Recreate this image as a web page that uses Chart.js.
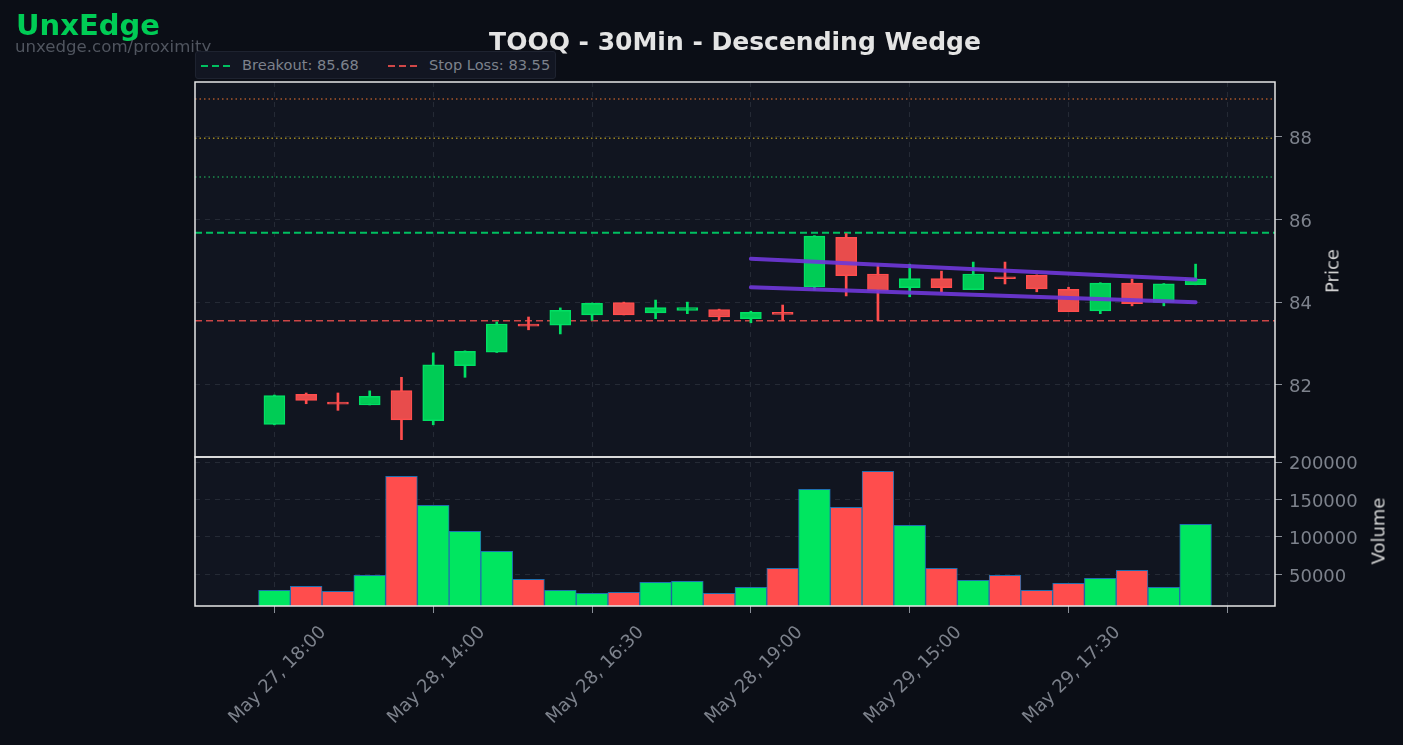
<!DOCTYPE html>
<html>
<head>
<meta charset="utf-8">
<script src="https://cdn.jsdelivr.net/npm/chart.js@4.4.1/dist/chart.umd.min.js"></script>
<style>
  html, body { margin: 0; padding: 0; background: #0b0e16; }
  #wrap { position: relative; width: 1403px; height: 745px; overflow: hidden; font-family: "DejaVu Sans", sans-serif; }
  #chart { position: absolute; left: 0; top: 0; }
  .brand { position: absolute; left: 16px; top: 8px; font-size: 29px; font-weight: bold; color: #00cc55; }
  .site { position: absolute; left: 15px; top: 37px; font-size: 16.6px; color: #50555f; }
  .title { position: absolute; left: 385px; width: 700px; top: 27px; text-align: center; font-size: 25px; font-weight: bold; color: #e4e4e4; }
  .legend { position: absolute; left: 195px; top: 51px; width: 359px; height: 26px; background: #121622; border: 1px solid #1e2330; border-radius: 3px; font-size: 14.6px; color: #7d828c; }
  .legend span { position: absolute; top: 4px; }
  .legend svg { position: absolute; top: 12px; }
  .axt { position: absolute; font-size: 18px; color: #d4d4d4; transform: translate(-50%, -50%) rotate(-90deg); white-space: nowrap; }
</style>
</head>
<body>
<div id="wrap">
  <canvas id="chart" width="1403" height="745"></canvas>
  <div class="brand">UnxEdge</div>
  <div class="site">unxedge.com/proximity</div>
  <div class="title">TOOQ - 30Min - Descending Wedge</div>
  <div class="legend">
    <svg width="32" height="4" style="left:5px"><line x1="0" y1="2" x2="32" y2="2" stroke="#00c060" stroke-width="2" stroke-dasharray="7,4"/></svg>
    <span style="left:46px">Breakout: 85.68</span>
    <svg width="32" height="4" style="left:192px"><line x1="0" y1="2" x2="32" y2="2" stroke="#d04848" stroke-width="2" stroke-dasharray="7,4"/></svg>
    <span style="left:233px">Stop Loss: 83.55</span>
  </div>
  <div class="axt" style="left:1332px; top:271px">Price</div>
  <div class="axt" style="left:1378px; top:531px">Volume</div>
</div>
<script>
// 30 min candles, index 0 = May 27 18:00
const opens  = [81.04, 81.77, 81.58, 81.51, 81.86, 81.13, 82.46, 82.79, 83.47, 83.44, 83.69, 83.99, 83.74, 83.80, 83.82,
                83.60, 83.75, 84.37, 85.57, 84.68, 84.35, 84.57, 84.30, 84.61, 84.65, 84.31, 83.79, 84.46, 83.99, 84.42];
const highs  = [81.75, 81.80, 81.80, 81.85, 82.18, 82.77, 82.82, 83.52, 83.64, 83.86, 83.98, 84.00, 84.05, 84.00, 83.83,
                83.78, 83.93, 85.61, 85.66, 84.90, 84.92, 84.75, 84.97, 84.97, 84.66, 84.36, 84.47, 84.56, 84.45, 84.92];
const lows   = [81.03, 81.54, 81.38, 81.51, 80.67, 81.03, 82.18, 82.78, 83.33, 83.23, 83.56, 83.69, 83.60, 83.72, 83.56,
                83.50, 83.56, 84.29, 84.15, 83.55, 84.13, 84.25, 84.30, 84.44, 84.25, 83.77, 83.72, 83.91, 83.91, 84.42];
const closes = [81.74, 81.62, 81.53, 81.72, 81.15, 82.48, 82.81, 83.47, 83.42, 83.80, 83.97, 83.69, 83.87, 83.87, 83.64,
                83.75, 83.70, 85.60, 84.64, 84.27, 84.57, 84.35, 84.68, 84.57, 84.32, 83.77, 84.46, 83.96, 84.44, 84.56];
const volumes = [28700, 34000, 27300, 48700, 181300, 142500, 107700, 80900, 43400, 28700, 24600, 26000, 39400, 40700, 24600,
                 32700, 58100, 163900, 139800, 188000, 115700, 58100, 42000, 48700, 28700, 38000, 44700, 55400, 32700, 117100];

const tickPositions = [0, 5, 10, 15, 20, 25, 30];
const tickLabels = ['May 27, 18:00', 'May 28, 14:00', 'May 28, 16:30', 'May 28, 19:00', 'May 29, 15:00', 'May 29, 17:30', ''];
const priceTicks = [82, 84, 86, 88];
const volumeTicks = [50000, 100000, 150000, 200000];

const breakout = 85.68;
const stopLoss = 83.55;
const targets = [87.03, 87.97, 88.92];
const wedgeX = [15, 29];
const wedgeUpper = [85.05, 84.55];
const wedgeLower = [84.36, 84.00];

const X_MIN = -2.5, X_MAX = 31.5;
const GREEN = '#00cc55', GREEN_EDGE = '#00e064', RED = '#e84c4c', RED_EDGE = '#ff4d4d';

const up = closes.map((c, i) => c >= opens[i]);
const hline = (y) => [{x: X_MIN, y: y}, {x: X_MAX, y: y}];

const refLine = (y, color, dash, width) => ({
  type: 'line', data: hline(y), yAxisID: 'y', borderColor: color, borderWidth: width,
  borderDash: dash, pointRadius: 0, order: 3
});

const panels = {
  id: 'panels',
  beforeDraw(chart) {
    const {ctx, chartArea: a} = chart;
    ctx.save();
    ctx.fillStyle = '#111520';
    ctx.fillRect(a.left, a.top, a.width, a.height);
    ctx.restore();
  },
  afterDraw(chart) {
    const {ctx, chartArea: a, scales} = chart;
    ctx.save();
    ctx.strokeStyle = '#e6e6e6';
    ctx.lineWidth = 1.5;
    for (const id of ['y', 'yv']) {
      const s = scales[id];
      ctx.strokeRect(a.left, s.top, a.width, s.bottom - s.top);
    }
    ctx.restore();
  }
};

const gridCfg = {color: '#252a35', tickColor: '#8a8f98', tickLength: 7, tickBorderDash: [], lineWidth: 1};
const tickFont = {family: 'DejaVu Sans', size: 18};

new Chart(document.getElementById('chart'), {
  type: 'bar',
  data: {
    datasets: [
      {
        type: 'line', data: wedgeX.map((x, i) => ({x: x, y: wedgeUpper[i]})), yAxisID: 'y',
        borderColor: 'rgba(110,55,215,0.92)', borderWidth: 4, borderCapStyle: 'round', pointRadius: 0, order: 0
      },
      {
        type: 'line', data: wedgeX.map((x, i) => ({x: x, y: wedgeLower[i]})), yAxisID: 'y',
        borderColor: 'rgba(110,55,215,0.92)', borderWidth: 4, borderCapStyle: 'round', pointRadius: 0, order: 0
      },
      {
        data: opens.map((o, i) => ({x: i, y: [o, closes[i]]})), yAxisID: 'y',
        backgroundColor: up.map(u => u ? GREEN : RED),
        borderColor: up.map(u => u ? GREEN_EDGE : RED_EDGE),
        borderWidth: 1.5, borderSkipped: false, barThickness: 21, grouped: false, order: 1
      },
      {
        data: lows.map((l, i) => ({x: i, y: [l, highs[i]]})), yAxisID: 'y',
        backgroundColor: up.map(u => u ? GREEN_EDGE : RED_EDGE),
        borderWidth: 0, barThickness: 2, grouped: false, order: 2
      },
      refLine(breakout, '#00c060', [7, 4], 2),
      refLine(stopLoss, '#cc4646', [7, 4], 1.6),
      refLine(targets[0], '#1c8a4c', [1.5, 3], 1.5),
      refLine(targets[1], '#9a8420', [1.5, 3], 1.5),
      refLine(targets[2], '#a8552a', [1.5, 3], 1.5),
      {
        data: volumes.map((v, i) => ({x: i, y: v})), yAxisID: 'yv',
        backgroundColor: up.map(u => u ? '#00e660' : '#ff4d4d'),
        borderColor: '#1f6fb0', borderWidth: 1, borderSkipped: false,
        barPercentage: 1, categoryPercentage: 1, grouped: false, order: 4
      }
    ]
  },
  options: {
    responsive: false,
    animation: false,
    layout: {padding: {top: 82, left: 195, right: 0, bottom: 0}},
    plugins: {legend: {display: false}, tooltip: {enabled: false}},
    scales: {
      x: {
        type: 'linear', min: X_MIN, max: X_MAX, offset: false,
        grid: {...gridCfg, offset: false},
        border: {display: false, dash: [5, 5]},
        afterBuildTicks: (s) => { s.ticks = tickPositions.map(v => ({value: v})); },
        afterFit: (s) => { s.height = 139; },
        ticks: {
          autoSkip: false, minRotation: 45, maxRotation: 45, labelOffset: 49, padding: 9,
          color: '#7d828c', font: tickFont,
          callback: (v) => tickLabels[tickPositions.indexOf(v)] ?? ''
        }
      },
      y: {
        type: 'linear', position: 'right', stack: 'panes', stackWeight: 375,
        min: 80.25, max: 89.33,
        grid: gridCfg,
        border: {display: false, dash: [5, 5]},
        afterBuildTicks: (s) => { s.ticks = priceTicks.map(v => ({value: v})); },
        afterFit: (s) => { s.width = 128; },
        ticks: {color: '#7d828c', font: tickFont, padding: 7, labelOffset: 2.5, callback: (v) => String(v)}
      },
      yv: {
        type: 'linear', position: 'right', stack: 'panes', stackWeight: 149,
        min: 7600, max: 207100,
        grid: gridCfg,
        border: {display: false, dash: [5, 5]},
        afterBuildTicks: (s) => { s.ticks = volumeTicks.map(v => ({value: v})); },
        afterFit: (s) => { s.width = 128; },
        ticks: {color: '#7d828c', font: tickFont, padding: 7, labelOffset: 2.5, callback: (v) => String(v)}
      }
    }
  },
  plugins: [panels]
});
</script>
</body>
</html>
